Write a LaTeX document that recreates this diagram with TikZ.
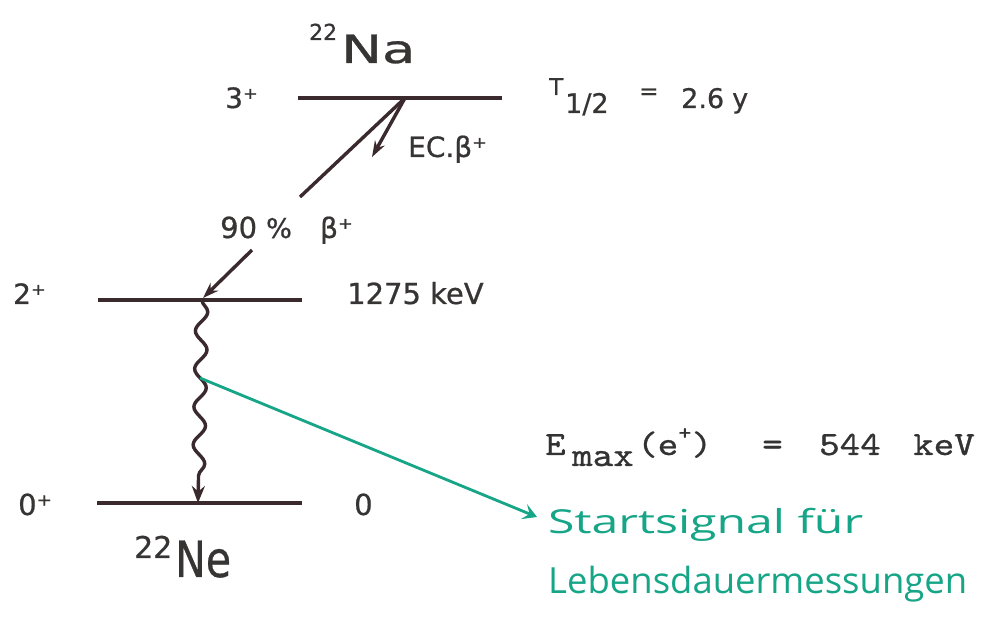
\documentclass[tikz,border=0pt]{standalone}
\usepackage{fontspec}
\setmainfont{DejaVu Sans}[FakeBold=0.7]
\newfontfamily\monofam{lmmono10-regular.otf}[FakeBold=0.8]
\newfontfamily\handfam{Open Sans}
\usetikzlibrary{arrows.meta,decorations.pathmorphing}
\definecolor{ink}{RGB}{58,42,46}
\definecolor{txtgray}{RGB}{55,52,52}
\definecolor{siggreen}{RGB}{22,165,135}
\newcommand\setfs[1]{\fontsize{#1}{#1}\selectfont}
\newcommand\wide[1]{\scalebox{1.15}[1]{#1}}
\begin{document}
\begin{tikzpicture}[x=1pt,y=-1pt,
  level/.style={draw=ink, line width=4pt},
  trans/.style={draw=ink, line width=3.4pt},
  tipdark/.style={-{Stealth[length=16pt,width=11pt]}},
  lbl/.style={inner sep=0pt, anchor=base west, text=txtgray},
  monolbl/.style={inner sep=0pt, anchor=base west, text=black!80, font=\monofam\setfs{34}},
  handlbl/.style={inner sep=0pt, anchor=base west, text=siggreen, font=\handfam\setfs{33}},
  sig/.style={draw=siggreen, line width=2.8pt, -{Stealth[length=14pt,width=16pt,inset=6pt]}}]
\useasboundingbox[fill=white] (0,0) rectangle (997,617);

% 22Na level
\node[lbl] (na22) at (309,40) {\setfs{22}22};
\node[lbl] (na) at (341,63) {\setfs{39}\scalebox{1.4}[1]{Na}};
\node[lbl] (s3) at (225,108) {\setfs{28}3⁺};
\coordinate (naL) at (298,98);
\coordinate (naR) at (502,98);
\coordinate (naD) at (405,98);
\draw[level] (naL) -- (naR);
\node[lbl] (tT) at (549,95) {\setfs{23}T};
\node[lbl] (t12) at (565,113) {\setfs{27}1/2};
\node[lbl] (teq) at (639,99) {\setfs{23}=};
\node[lbl] (tval) at (681,108) {\setfs{27}2.6};
\node[lbl] (ty) at (732,108) {\setfs{27}y};

% EC branch
\coordinate (ecEnd) at (372,157);
\draw[trans,tipdark] (naD) -- (ecEnd);
\node[lbl] (ec) at (408,157) {\setfs{28}EC.β⁺};

% beta+ branch
\coordinate (bEnd) at (300,197);
\draw[trans] (naD) -- (bEnd);
\node[lbl] (p90) at (220,238) {\setfs{29}90};
\node[lbl] (pct) at (266,238) {\setfs{27}\%};
\node[lbl] (b2) at (320,238) {\setfs{28}β⁺};
\coordinate (b2s) at (252,250);
\coordinate (b2e) at (203,298);
\draw[trans,tipdark] (b2s) -- (b2e);

% 2+ level
\coordinate (l2L) at (98,300);
\coordinate (l2R) at (302,300);
\draw[level] (l2L) -- (l2R);
\node[lbl] (s2) at (13,304) {\setfs{28}2⁺};
\node[lbl] (e1275) at (347,304) {\setfs{29}1275 keV};

% gamma
\coordinate (wTop) at (202,300);
\coordinate (wBot) at (198,503);
\draw[draw=ink, line width=3.4pt, -{Stealth[length=17pt,width=13pt]},
  decorate, decoration={snake, amplitude=6pt, segment length=38pt, post length=16pt}]
  (wTop) -- (wBot);

% 0+ level
\coordinate (l0L) at (97,503);
\coordinate (l0R) at (302,503);
\draw[level] (l0L) -- (l0R);
\node[lbl] (s0) at (18,515) {\setfs{29}0⁺};
\node[lbl] (e0) at (354,515) {\setfs{29}0};
\node[lbl] (ne22) at (134,558) {\setfs{30}22};
\node[lbl] (ne) at (175,577) {\setfs{50}\scalebox{0.82}[1]{Ne}};

% Emax
\node[monolbl] (emE) at (545,455) {\wide{E}};
\node[monolbl] (emMax) at (572,466) {\wide{max}};
\node[monolbl] (emE2) at (637,455) {\wide{(e\raisebox{0.45em}{\setfs{22}+})}};
\node[monolbl] (emEq) at (762,455) {\wide{=}};
\node[monolbl] (em544) at (819,455) {\wide{544}};
\node[monolbl] (emKeV) at (913,455) {\wide{keV}};

% signal arrow
\coordinate (gS) at (200,378);
\coordinate (gE) at (537,517);
\draw[sig] (gS) -- (gE);
\node[handlbl] (h1) at (548,533) {\resizebox{315pt}{\height}{Startsignal für}};
\node[handlbl] (h2) at (548,594) {\resizebox{419pt}{\height}{\setfs{36}Lebensdauermessungen}};
\end{tikzpicture}
\end{document}
